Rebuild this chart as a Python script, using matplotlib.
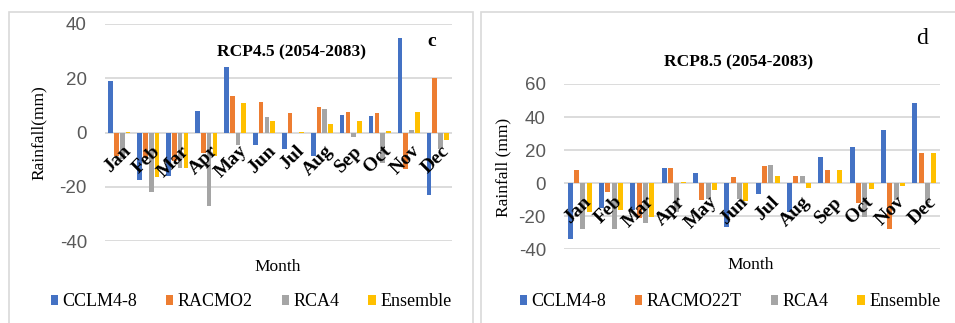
import numpy as np
import matplotlib.pyplot as plt
from matplotlib.patches import Rectangle
from matplotlib.font_manager import FontProperties
from matplotlib import transforms

plt.rcParams["axes.unicode_minus"] = False

months = ["Jan", "Feb", "Mar", "Apr", "May", "Jun", "Jul", "Aug", "Sep", "Oct", "Nov", "Dec"]
colors = ["#4472C4", "#ED7D31", "#A5A5A5", "#FFC000"]

# RCP4.5 (2054-2083)
c_cclm = [19, -17.6, -16, 8.1, 24, -4.6, -6, -8.6, 6.5, 6.1, 35, -23]
c_racmo = [-8.8, -9.5, -10.4, -7.5, 13.3, 11.4, 7.1, 9.4, 7.4, 7.2, -13.6, 20]
c_rca = [-9.6, -22, -13.2, -27, -4.6, 5.8, -0.2, 8.8, -1.7, -11.3, 1, -6]
c_ens = [0.2, -16.4, -13.2, -8.8, 10.9, 4.3, 0.3, 3.2, 4.1, 0.6, 7.5, -2.9]
c_names = ["CCLM4-8", "RACMO2", "RCA4", "Ensemble"]

# RCP8.5 (2054-2083)
d_cclm = [-34, -14.8, -16.2, 9, 6, -26.6, -6.8, -17.6, 15.8, 21.6, 32.4, 48.4]
d_racmo = [8, -5.6, -21, 9.2, -10, 3.6, 10.6, 4.4, 8, -12, -28, 18.4]
d_rca = [-27.6, -27.6, -24, -17.2, -9.6, -9.4, 10.8, 4.2, 0, -20.4, -10.4, -12]
d_ens = [-17.6, -16, -20.4, 0.6, -4.4, -10.8, 4.6, -3, 8, -3.6, -1.6, 18.2]
d_names = ["CCLM4-8", "RACMO22T", "RCA4", "Ensemble"]

serif = "Liberation Serif"
sans = "Liberation Sans"

fig = plt.figure(figsize=(9.55, 3.23), dpi=100)

# panel frames
fig.patches.append(Rectangle((9 / 955, -0.1), 464 / 955, 1.1 - 12 / 323, transform=fig.transFigure,
                             fill=False, edgecolor="#d9d9d9", lw=1.2))
fig.patches.append(Rectangle((481 / 955, -0.1), 480 / 955, 1.1 - 12 / 323, transform=fig.transFigure,
                             fill=False, edgecolor="#d9d9d9", lw=1.2))


def panel(rect, series, names, ylim, yticks, ylabel, ylabel_xy, title, title_xy,
          letter, letter_xy, letter_kw, month_xy, leg_x):
    ax = fig.add_axes(rect)
    x = np.arange(len(months))
    for k, (vals, col, name) in enumerate(zip(series, colors, names)):
        ax.bar(x + (k - 1.5) * 0.2, vals, width=0.16, color=col, label=name, zorder=3)
    ax.set_xlim(-0.5, 11.5)
    ax.set_ylim(*ylim)
    ax.set_yticks(yticks)
    ax.grid(axis="y", color="#d9d9d9", lw=1.3, zorder=0)
    ax.set_xticks([])
    for s in ax.spines.values():
        s.set_visible(False)
    ax.tick_params(axis="y", length=0, pad=13, labelsize=13.5, labelcolor="#595959")
    for lab in ax.get_yticklabels():
        lab.set_fontfamily(sans)
    off = transforms.offset_copy(ax.transData, fig=fig, x=3, y=-10, units="dots")
    for i, m in enumerate(months):
        ax.text(i, 0, m, transform=off, rotation=45, rotation_mode="anchor", ha="right", va="top",
                fontsize=14, fontweight="bold", family=serif, zorder=5)
    ax.set_ylabel(ylabel, family=serif, fontsize=12.5)
    ax.yaxis.set_label_coords(ylabel_xy[0] / 955, 1 - ylabel_xy[1] / 323, transform=fig.transFigure)
    fig.text(title_xy[0] / 955, 1 - title_xy[1] / 323, title, family=serif, fontsize=12.5,
             fontweight="bold", ha="center", va="center")
    fig.text(letter_xy[0] / 955, 1 - letter_xy[1] / 323, letter, family=serif, ha="center",
             va="center", **letter_kw)
    fig.text(month_xy[0] / 955, 1 - month_xy[1] / 323, "Month", family=serif, fontsize=12.5,
             ha="center", va="center")
    ax.legend(loc="center", bbox_to_anchor=(leg_x / 955, 1 - 302 / 323), bbox_transform=fig.transFigure,
              ncol=4, frameon=False, handlelength=0.4, handleheight=0.4, handletextpad=0.25,
              columnspacing=1.6, prop=FontProperties(family=serif, size=13))
    return ax


ax1 = panel([105 / 955, 1 - 241 / 323, 347 / 955, 217 / 323],
            [c_cclm, c_racmo, c_rca, c_ens], c_names, (-40, 40), [-40, -20, 0, 20, 40],
            "Rainfall(mm)", (47, 133), "RCP4.5 (2054-2083)", (291, 52),
            "c", (432, 42), {"fontsize": 14, "fontweight": "bold"}, (278, 267), 251)

ax2 = panel([564 / 955, 1 - 249.3 / 323, 376 / 955, 165.3 / 323],
            [d_cclm, d_racmo, d_rca, d_ens], d_names, (-40, 60), [-40, -20, 0, 20, 40, 60],
            "Rainfall (mm)", (511, 167), "RCP8.5 (2054-2083)", (739, 62),
            "d", (922, 38), {"fontsize": 17}, (751, 265), 730)

fig.savefig("out.png", dpi=100)
